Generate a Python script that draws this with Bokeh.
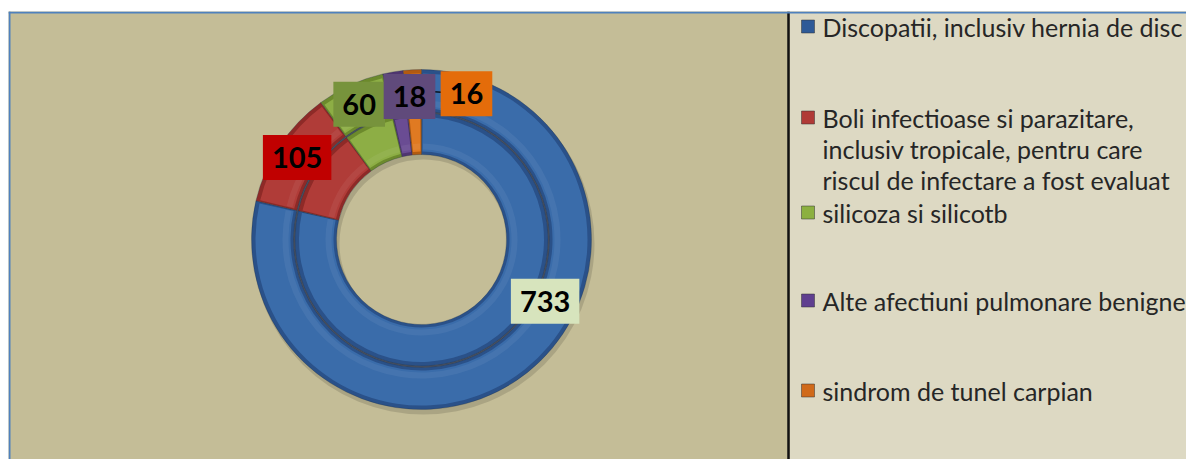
import math
from bokeh.plotting import figure
from bokeh.models import Label, Range1d
from bokeh.core.properties import value
from bokeh.embed import file_html
from bokeh.resources import INLINE

# ---------------- data ----------------
categories = [
    "Discopatii, inclusiv hernia de disc",
    "Boli infectioase si parazitare,\ninclusiv tropicale, pentru care\nriscul de infectare a fost evaluat",
    "silicoza si silicotb",
    "Alte afectiuni pulmonare benigne",
    "sindrom de tunel carpian",
]
inner_values = [733, 105, 60, 18, 16]
outer_values = [733, 105, 60, 18, 16]
label_texts = ["733", "105", "60", "18", "16"]

# ---------------- styles / layout ----------------
dark_cols = ["#2A5189", "#8E2A27", "#6C8A2C", "#4F3570", "#B25A10"]
main_cols = ["#3A6CAA", "#B03C38", "#8DAE45", "#6A4C93", "#E07A22"]
legend_cols = ["#2E5A97", "#B03A36", "#8CB040", "#5F3F8F", "#D06A1A"]
box_cols = ["#D7E4BD", "#C00000", "#77933C", "#604A7B", "#E46C0A"]
# label nudges in pixels (right, down) from the slice mid-point on the outer ring
label_dx = [31, 0, 0, 13, 53]
label_dy = [-55, 0, 0, 4, 3]
legend_rows_px = [26, 117, 212, 300, 390]

W, H = 1186, 459
LEFT, TOP = 8, 11
FW, FH = W - LEFT, H - TOP


def X(px):
    return px - LEFT


def Y(py):
    return H - py


cx, cy = X(421), Y(239)
r_hole, r_in_out, r_out_in, r_out = 85, 126.5, 128, 170

p = figure(width=W, height=H, x_range=Range1d(0, FW), y_range=Range1d(0, FH),
           output_backend="svg", toolbar_location=None,
           x_axis_location=None, y_axis_location=None,
           min_border_left=LEFT, min_border_right=0, min_border_top=TOP, min_border_bottom=0)
p.grid.visible = False
p.outline_line_color = None
p.background_fill_color = "#C4BD97"
p.border_fill_color = "white"

# legend panel + separator
p.quad(left=[X(789)], right=[FW], bottom=[0], top=[FH], fill_color="#DDD9C3", line_color=None)
p.segment(x0=[X(788)], y0=[0], x1=[X(788)], y1=[FH], line_color="#111111", line_width=2.5)

# drop shadow
p.annular_wedge(x=[cx + 2], y=[cy - 4], inner_radius=r_hole - 1, outer_radius=r_out + 1,
                start_angle=0, end_angle=2 * math.pi, fill_color="black", fill_alpha=0.13,
                line_color=None)
# dark seam between the rings
p.annular_wedge(x=[cx], y=[cy], inner_radius=r_in_out - 0.5, outer_radius=r_out_in + 0.5,
                start_angle=0, end_angle=2 * math.pi, fill_color="#4A5262", line_color=None)


def ring(vals, r0, r1):
    total = float(sum(vals))
    cum = 0.0
    for i, v in enumerate(vals):
        a0 = math.pi / 2 - cum / total * 2 * math.pi
        cum += v
        a1 = math.pi / 2 - cum / total * 2 * math.pi
        p.annular_wedge(x=[cx], y=[cy], inner_radius=r0, outer_radius=r1,
                        start_angle=a0, end_angle=a1, direction="clock",
                        fill_color=dark_cols[i], line_color="#1E2E44", line_width=0.6,
                        line_alpha=0.5)
        p.annular_wedge(x=[cx], y=[cy], inner_radius=r0 + 3, outer_radius=r1 - 4,
                        start_angle=a0 - 0.01, end_angle=a1 + 0.01, direction="clock",
                        fill_color=main_cols[i], line_color=None)
        p.annular_wedge(x=[cx], y=[cy], inner_radius=r0 + 5, outer_radius=r0 + 11,
                        start_angle=a0 - 0.015, end_angle=a1 + 0.015, direction="clock",
                        fill_color="white", fill_alpha=0.06, line_color=None)


ring(inner_values, r_hole, r_in_out)
ring(outer_values, r_out_in, r_out)

# label positions from slice mid-angles on the outer ring
total = float(sum(outer_values))
cum = 0.0
lab_pos = []
r_lab = 149
for i, v in enumerate(outer_values):
    mid = math.pi / 2 - (cum + v / 2) / total * 2 * math.pi
    cum += v
    bx = cx + r_lab * math.cos(mid)
    by = cy + r_lab * math.sin(mid)
    lab_pos.append((bx, by, bx + label_dx[i], by - label_dy[i]))

# leader line for the last label
bx, by, lx, ly = lab_pos[4]
p.segment(x0=[bx], y0=[by], x1=[lx], y1=[ly], line_color="black", line_width=1.2)

for i, (bx, by, lx, ly) in enumerate(lab_pos):
    p.add_layout(Label(x=lx, y=ly, text=label_texts[i], text_align="center",
                       text_baseline="middle", text_font="Lato", text_font_style="bold",
                       text_font_size="29px", text_color="black",
                       background_fill_color=box_cols[i],
                       padding=dict(left=9, right=9, top=12, bottom=12)))

# legend
for i, cat in enumerate(categories):
    y0 = Y(legend_rows_px[i])
    p.rect(x=[X(807.5)], y=[y0], width=13, height=13, fill_color=legend_cols[i],
           line_color="#333333", line_width=0.5)
    for j, line in enumerate(cat.split("\n")):
        p.text(x=[X(822)], y=[y0 - j * 31], text=[line], text_font=value("Lato"),
               text_font_size="25px", text_color="#262626", text_baseline="middle",
               text_align="left")

# blue chart border (top and left)
p.segment(x0=[0], y0=[FH - 1], x1=[FW], y1=[FH - 1], line_color="#4F81BD", line_width=2)
p.segment(x0=[1], y0=[0], x1=[1], y1=[FH], line_color="#4F81BD", line_width=2)

open("out.html", "w").write(file_html(p, INLINE))
